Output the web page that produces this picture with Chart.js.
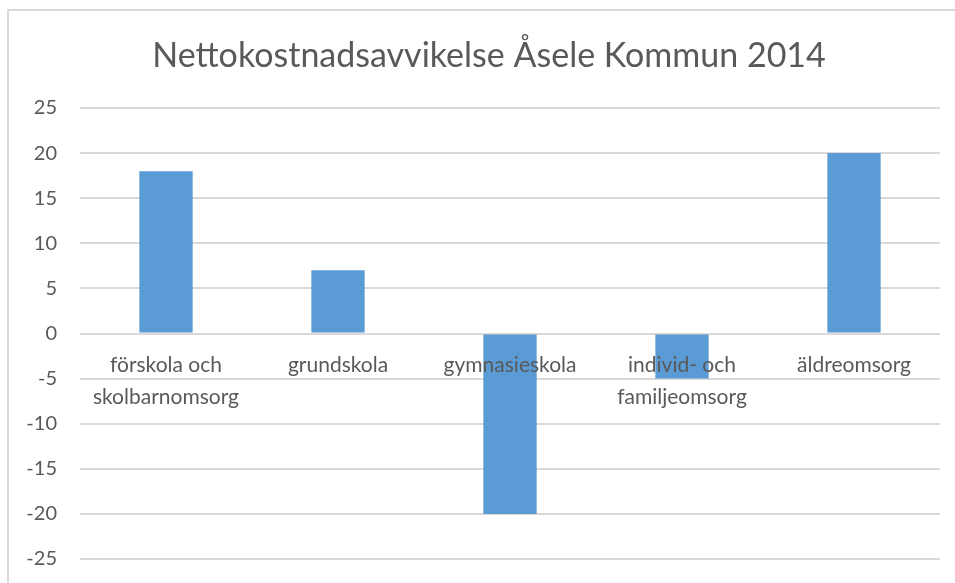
<!DOCTYPE html>
<html>
<head>
<meta charset="utf-8">
<script src="https://cdn.jsdelivr.net/npm/chart.js"></script>
<style>
  html, body { margin: 0; padding: 0; background: #ffffff; }
  #wrap { width: 955px; height: 583px; position: relative; }
</style>
</head>
<body>
<div id="wrap"><canvas id="avvikelseChart"></canvas></div>
<script>
const chartTitle = 'Nettokostnadsavvikelse Åsele Kommun 2014';
const categories = [
    ['förskola och', 'skolbarnomsorg'],
    'grundskola',
    'gymnasieskola',
    ['individ- och', 'familjeomsorg'],
    'äldreomsorg'
];
const avvikelse = [18, 7, -20, -5, 20];
const yMin = -25;
const yMax = 25;
const yStep = 5;

const textColor = '#595959';
const gridColor = '#d9d9d9';
const fontFamily = 'Lato, "Open Sans", sans-serif';

// frame line + title drawn like the Excel chart (title centred on the original frame)
const framePlugin = {
    id: 'frame',
    beforeDraw(chart) {
        const c = chart.ctx;
        c.save();
        c.strokeStyle = gridColor;
        c.lineWidth = 2;
        c.beginPath();
        c.moveTo(8, chart.height);
        c.lineTo(8, 10);
        c.lineTo(chart.width, 10);
        c.stroke();
        c.restore();
    },
    afterDraw(chart) {
        const c = chart.ctx;
        c.save();
        c.fillStyle = textColor;
        c.font = '34px ' + fontFamily;
        c.textAlign = 'center';
        c.textBaseline = 'alphabetic';
        c.fillText(chartTitle, 489, 67);
        c.restore();
    }
};

const ctx = document.getElementById('avvikelseChart');

new Chart(ctx, {
    type: 'bar',
    data: {
        labels: categories,
        datasets: [{
            label: 'Avvikelse',
            data: avvikelse,
            backgroundColor: '#5b9bd5',
            borderWidth: 0,
            categoryPercentage: 1,
            barPercentage: 0.31
        }]
    },
    options: {
        responsive: true,
        maintainAspectRatio: false,
        animation: false,
        layout: {
            padding: { left: 0, right: 15, top: 108, bottom: 24 }
        },
        scales: {
            x: {
                position: { y: 0 },
                afterFit(scale) {
                    scale.height = 0;
                    scale.paddingLeft = 0;
                    scale.paddingRight = 0;
                    scale.paddingTop = 0;
                    scale.paddingBottom = 0;
                },
                grid: { display: false, drawTicks: false },
                border: { display: false },
                ticks: {
                    z: 1,
                    color: textColor,
                    padding: 16,
                    maxRotation: 0,
                    autoSkip: false,
                    font: { family: fontFamily, size: 21, lineHeight: 1.5 }
                }
            },
            y: {
                min: yMin,
                max: yMax,
                afterFit(scale) {
                    scale.width = 80;
                    scale.paddingTop = 0;
                    scale.paddingBottom = 0;
                },
                grid: { color: gridColor, lineWidth: 2, drawTicks: false },
                border: { display: false },
                ticks: {
                    stepSize: yStep,
                    color: textColor,
                    padding: 23,
                    font: { family: fontFamily, size: 20 }
                }
            }
        },
        plugins: {
            legend: { display: false },
            title: { display: false },
            tooltip: { enabled: false }
        }
    },
    plugins: [framePlugin]
});
</script>
</body>
</html>
